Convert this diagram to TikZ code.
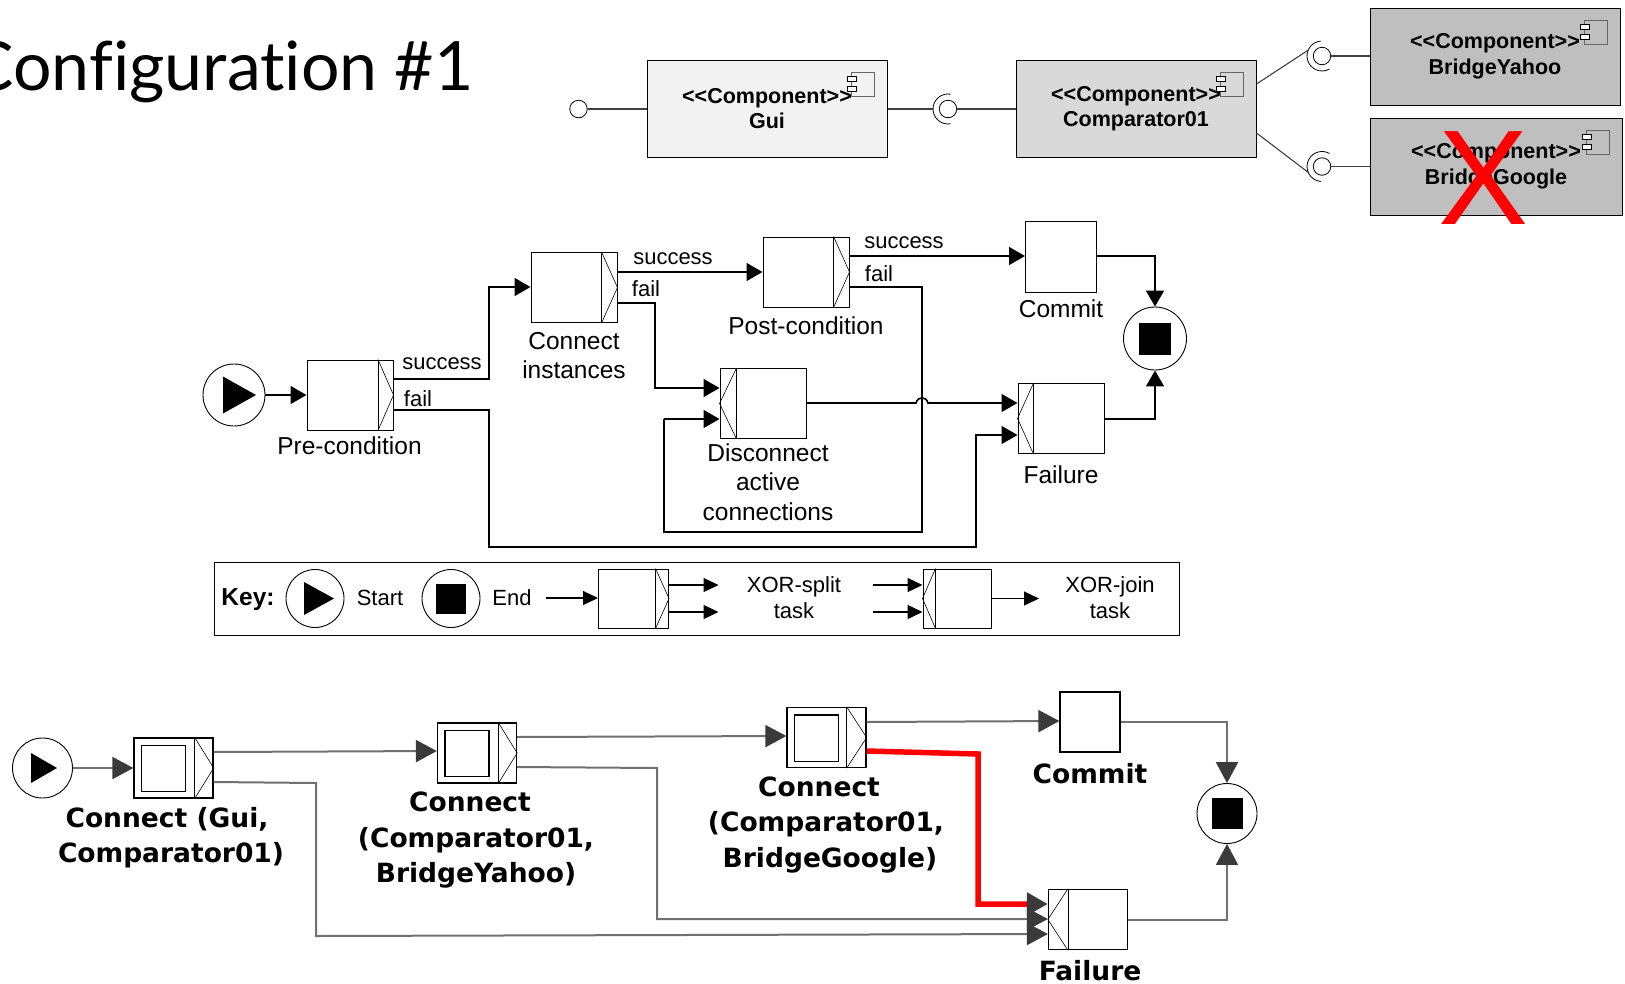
\documentclass[tikz,border=0pt]{standalone}
\usepackage{fontspec}
\usepackage{tikz}
\usetikzlibrary{arrows.meta}
\setmainfont{Liberation Sans}
\newfontfamily\titlefont[Ligatures=NoCommon]{Lato}
\newfontfamily\runfont{DejaVu Sans}
\definecolor{guifill}{HTML}{F2F2F2}
\definecolor{cmpfill}{HTML}{D9D9D9}
\definecolor{brgfill}{HTML}{BFBFBF}
\definecolor{runline}{HTML}{707070}
\definecolor{runtip}{HTML}{3A3A3A}
\newcommand{\stereotype}{<\kern0pt<Component>\kern0pt>}
% small icon in the corner of a component:
\newcommand{\compicon}[1]{
\path[draw=black!60,line width=1pt] ([xshift=-36pt,yshift=-13pt]#1.north east) rectangle ([xshift=-13pt,yshift=-37pt]#1.north east);
\path[draw=black,fill=white] ([xshift=-40pt,yshift=-17pt]#1.north east) rectangle ([xshift=-31pt,yshift=-22pt]#1.north east);
\path[draw=black,fill=white] ([xshift=-40pt,yshift=-27pt]#1.north east) rectangle ([xshift=-31pt,yshift=-32pt]#1.north east);
}
\newcommand{\socket}[3]{
\path[draw=black,line width=0.8pt] ([shift={(#2:15pt)}]#1.center) arc[start angle=#2,end angle=#3,radius=15pt];
}
% divider and triangle of a split or join task:
\newcommand{\xorsplit}[2]{
\path[draw=black,line width=0.6pt] ([xshift=-#2]#1.north east) -- ([xshift=-#2]#1.south east);
\path[draw=black,line width=0.6pt] ([xshift=-#2]#1.north east) -- (#1.east) -- ([xshift=-#2]#1.south east);
}
\newcommand{\xorjoin}[2]{
\path[draw=black,line width=0.6pt] ([xshift=#2]#1.north west) -- ([xshift=#2]#1.south west);
\path[draw=black,line width=0.6pt] ([xshift=#2]#1.north west) -- (#1.west) -- ([xshift=#2]#1.south west);
}
\newcommand{\innerbox}[1]{
\path[draw=black,line width=1.3pt] ([xshift=8pt,yshift=-8pt]#1.north west) rectangle ([xshift=52pt,yshift=7pt]#1.south west);
}
\newcommand{\playmark}[4]{
\path[fill=black] ([xshift=#2,yshift=#4]#1.center) -- ([xshift=#3]#1.center) -- ([xshift=#2,yshift=-#4]#1.center) -- cycle;
}
\tikzset{
comp/.style={draw=black,line width=1pt,inner sep=0pt,minimum width=240pt,minimum height=97pt,align=center,font=\fontsize{21.5}{25.5}\selectfont\bfseries},
ball/.style={draw=black,fill=white,circle,inner sep=0pt,minimum size=17.5pt,line width=0.8pt},
wire/.style={draw=black!75,line width=1.1pt},
task/.style={draw=black,fill=white,inner sep=0pt,line width=1pt,minimum width=86pt,minimum height=70pt},
keytask/.style={task,minimum width=70pt,minimum height=59pt},
runtask/.style={task,line width=1.3pt,minimum width=79pt,minimum height=60pt},
terminal/.style={draw=black,fill=white,circle,inner sep=0pt,line width=0.9pt,minimum size=#1},
stopmark/.style={fill=black,inner sep=0pt,minimum size=#1},
label/.style={inner sep=0pt,align=center,font=\fontsize{24.5}{29.5}\selectfont},
branch/.style={inner sep=0pt,font=\fontsize{22}{26}\selectfont},
keytext/.style={inner sep=0pt,align=center,font=\fontsize{22}{25.5}\selectfont},
runlabel/.style={inner sep=0pt,align=center,font=\runfont\bfseries\fontsize{26.5}{35.5}\selectfont},
flow/.style={draw=black,line width=1.6pt,-{Triangle[length=16pt,width=18pt]}},
plainflow/.style={draw=black,line width=1.6pt},
keyflow/.style={draw=black,line width=1.2pt,-{Triangle[length=15pt,width=14pt]}},
runflow/.style={draw=runline,line width=2pt,-{Triangle[length=21pt,width=22pt,color=runtip]}},
}
\begin{document}
\begin{tikzpicture}[x=1pt,y=-1pt]
\useasboundingbox (0,0) rectangle (1625,983);
% title:
\node[anchor=base east,inner sep=0pt,font=\titlefont\fontsize{68}{80}\selectfont] (title) at (474,90) {Configuration \#1};
% components:
\node[comp,fill=guifill] (gui) at (767,108.5) {\stereotype\\Gui};
\node[comp,fill=cmpfill] (comparator) at (1136,108.5) {\stereotype\\Comparator01};
\node[comp,fill=brgfill,minimum width=250pt] (yahoo) at (1495,56.5) {\stereotype\\BridgeYahoo};
\node[comp,fill=brgfill,minimum width=252pt] (google) at (1496,166.5) {\stereotype\\BridgeGoogle};
\compicon{gui}
\compicon{comparator}
\compicon{yahoo}
\compicon{google}
\node[ball] (guiball) at (578.5,109) {};
\node[ball] (cmpball) at (948,109) {};
\node[ball] (yahooball) at (1322,56) {};
\node[ball] (googleball) at (1322,166.5) {};
\socket{cmpball}{80}{280}
\socket{yahooball}{95}{300}
\socket{googleball}{60}{265}
\draw[wire] (guiball) -- (gui.west |- guiball);
\draw[wire] (gui.east |- cmpball) -- ([xshift=-15pt]cmpball.center);
\draw[wire] (cmpball) -- (comparator.west |- cmpball);
\draw[wire] (yahooball) -- (yahoo.west |- yahooball);
\draw[wire] (googleball) -- (google.west |- googleball);
\draw[wire] (comparator.east |- 0,84) -- ([shift={(157:15pt)}]yahooball.center);
\draw[wire] (comparator.east |- 0,133) -- ([shift={(203:15pt)}]googleball.center);
\node[inner sep=0pt,text=red,font=\fontsize{135}{135}\selectfont] (cross) at (1484,178) {X};
% upper workflow:
\node[terminal=62pt] (startA) at (234,395) {};
\playmark{startA}{-11pt}{22pt}{18.5pt}
\node[task] (pre) at (350,395) {};
\node[task] (connect) at (574,287.5) {};
\node[task] (post) at (806,272) {};
\node[task,minimum width=71pt,minimum height=71pt] (commitA) at (1061,256.5) {};
\node[task] (disconnect) at (763,403.5) {};
\node[task] (failA) at (1061,418.5) {};
\node[terminal=63pt] (endA) at (1155,338.5) {};
\node[stopmark=32pt] (endAin) at (endA) {};
\xorsplit{pre}{15.5pt}
\xorsplit{connect}{16pt}
\xorsplit{post}{16pt}
\xorjoin{disconnect}{17pt}
\xorjoin{failA}{16pt}
\draw[flow] (startA) -- (pre);
\draw[flow] (pre.east |- 0,379) -- (489,379) -- (489,287) -- (connect.west |- 0,287);
\draw[flow] (pre.east |- 0,410) -- (489,410) -- (489,547) -- (976,547) -- (976,435) -- (failA.west |- 0,435);
\draw[flow] (connect.east |- 0,272) -- (post.west |- 0,272);
\draw[flow] (connect.east |- 0,303) -- (655,303) -- (655,388) -- (disconnect.west |- 0,388);
\draw[flow] (post.east |- 0,256) -- (commitA.west |- 0,256);
\draw[plainflow] (post.east |- 0,287) -- (922,287) -- (922,532) -- (664,532) -- (664,419);
\draw[flow] (664,419) -- (disconnect.west |- 0,419);
\draw[flow] (disconnect.east |- 0,403) -- (916,403) .. controls (918,396) and (926,396) .. (928,403) -- (failA.west |- 0,403);
\draw[flow] (commitA.east |- 0,256) -- (endA.north |- 0,256) -- (endA.north);
\draw[flow] (failA.east |- 0,419) -- (endA.south |- 0,419) -- (endA.south);
\node[label] (prelabel) at (349.5,446) {Pre-condition};
\node[label] (connectlabel) at (574,355.5) {Connect\\instances};
\node[label] (postlabel) at (806,326) {Post-condition};
\node[label] (commitlabel) at (1061,309) {Commit};
\node[label] (disconnectlabel) at (768,482) {Disconnect\\active\\connections};
\node[label] (faillabel) at (1061,474.5) {Failure};
\node[branch] (successA) at (442,364) {success};
\node[branch] (failtextA) at (418,399) {fail};
\node[branch] (successB) at (673,259) {success};
\node[branch] (failtextB) at (646,289) {fail};
\node[branch] (successC) at (904,243) {success};
\node[branch] (failtextC) at (879,274) {fail};
% key:
\node[draw=black,line width=0.9pt,inner sep=0pt,minimum width=965pt,minimum height=73pt] (keyframe) at (696.5,598.5) {};
\node[inner sep=0pt,font=\fontsize{24.5}{29}\selectfont\bfseries] (keytitle) at (248,600) {Key:};
\node[terminal=58pt] (keystart) at (315,598.5) {};
\playmark{keystart}{-11pt}{19pt}{16.5pt}
\node[keytext] (keystarttext) at (380,598) {Start};
\node[terminal=58pt] (keyend) at (451,598.5) {};
\node[stopmark=30pt] (keyendin) at (keyend) {};
\node[keytext] (keyendtext) at (512,598) {End};
\node[keytask] (keysplit) at (633.5,598.5) {};
\xorsplit{keysplit}{13.5pt}
\coordinate (splitin) at (546,598);
\coordinate (splitoutA) at (718.5,585);
\coordinate (splitoutB) at (718.5,612);
\draw[keyflow] (splitin) -- (keysplit.west |- splitin);
\draw[keyflow] (keysplit.east |- splitoutA) -- (splitoutA);
\draw[keyflow] (keysplit.east |- splitoutB) -- (splitoutB);
\node[keytext] (splittext) at (794,597.5) {XOR-split\\task};
\node[keytask,minimum width=68pt] (keyjoin) at (957,598.5) {};
\xorjoin{keyjoin}{13pt}
\coordinate (joininA) at (873,585);
\coordinate (joininB) at (873,612);
\coordinate (joinout) at (1039,598.5);
\draw[keyflow] (joininA) -- (keyjoin.west |- joininA);
\draw[keyflow] (joininB) -- (keyjoin.west |- joininB);
\draw[keyflow] (keyjoin.east |- joinout) -- (joinout);
\node[keytext] (jointext) at (1110,597.5) {XOR-join\\task};
% lower workflow:
\node[terminal=60pt] (startB) at (42.5,768) {};
\playmark{startB}{-11.5pt}{14.5pt}{15pt}
\node[runtask] (gcomp) at (173.5,768) {};
\node[runtask] (cyahoo) at (477,753) {};
\node[runtask] (cgoogle) at (826.5,737.5) {};
\node[runtask,minimum width=60pt] (commitB) at (1090,722) {};
\node[runtask] (failB) at (1088,919.5) {};
\node[terminal=60pt] (endB) at (1227,813.5) {};
\node[stopmark=31pt] (endBin) at (endB) {};
\innerbox{gcomp}
\innerbox{cyahoo}
\innerbox{cgoogle}
\xorsplit{gcomp}{19pt}
\xorsplit{cyahoo}{19pt}
\xorsplit{cgoogle}{20pt}
\xorjoin{failB}{20pt}
\draw[runflow] (startB) -- (gcomp);
\draw[runflow] (gcomp.east |- 0,752) -- (cyahoo.west |- 0,751);
\draw[runflow] (gcomp.east |- 0,782) -- (316,783) -- (316,936) -- (failB.west |- 0,934);
\draw[runflow] (cyahoo.east |- 0,737) -- (cgoogle.west |- 0,736);
\draw[runflow] (cyahoo.east |- 0,767) -- (657,768) -- (657,919) -- (failB.west |- 0,919);
\draw[runflow] (cgoogle.east |- 0,722) -- (commitB.west |- 0,721);
\draw[draw=red,line width=5.5pt,-{Triangle[length=21pt,width=22pt,color=runtip]}] (cgoogle.east |- 0,751) -- (978,754) -- (978,904) -- (failB.west |- 0,904);
\draw[runflow] (commitB.east |- 0,722) -- (endB.north |- 0,722) -- (endB.north);
\draw[runflow] (failB.east) -- (endB.south |- failB.east) -- (endB.south);
\node[runlabel] (gcomplabel) at (171,837.5) {Connect (Gui,\hspace*{8pt}\\Comparator01)};
\node[runlabel] (cyahoolabel) at (476,840.5) {Connect\hspace*{12pt}\\(Comparator01,\\BridgeYahoo)};
\node[runlabel] (cgooglelabel) at (826,825) {Connect\hspace*{14pt}\\(Comparator01,\\\hspace*{8pt}BridgeGoogle)};
\node[runlabel] (commitBlabel) at (1090,774) {Commit};
\node[runlabel] (failBlabel) at (1090,971) {Failure};
\end{tikzpicture}
\end{document}
